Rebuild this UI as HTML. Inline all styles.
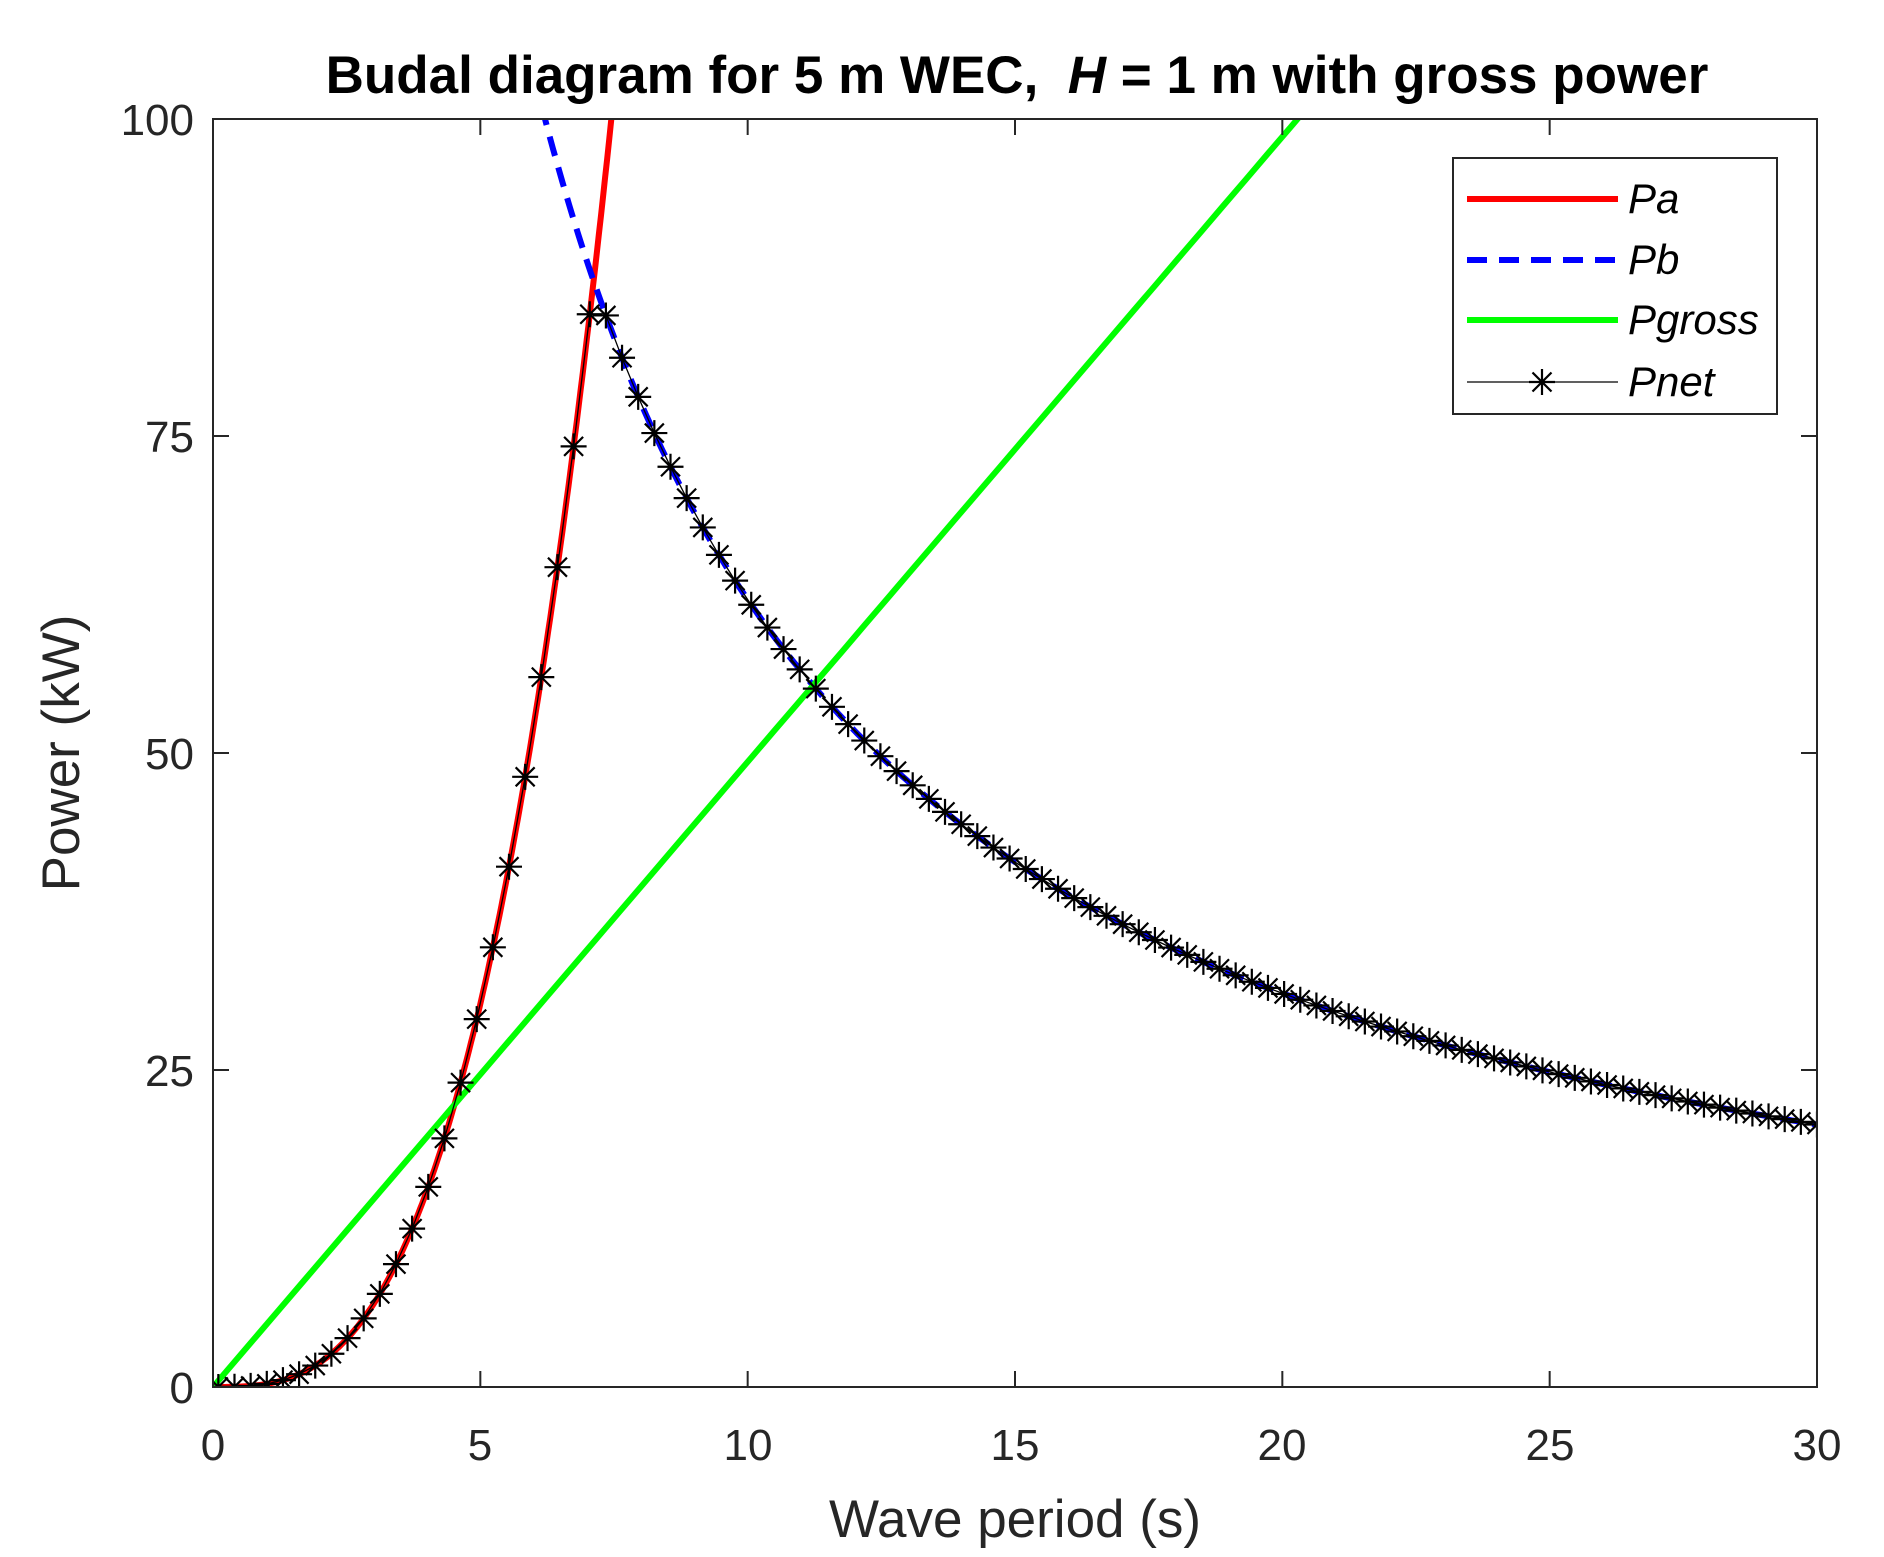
<!DOCTYPE html>
<html><head><meta charset="utf-8"><style>
html,body{margin:0;padding:0;background:#fff;}
svg{display:block;font-family:"Liberation Sans",Arial,sans-serif;}
</style></head><body>
<svg id="s" width="1884" height="1557" viewBox="0 0 1884 1557" xmlns="http://www.w3.org/2000/svg">
<rect width="1884" height="1557" fill="#fff"/>
<defs><clipPath id="c"><rect x="213" y="119" width="1604" height="1268"/></clipPath></defs>
<g id="plot" clip-path="url(#c)"></g>
<rect x="213" y="119" width="1604" height="1268" fill="none" stroke="#262626" stroke-width="2"/>
<g id="ticks" stroke="#262626" stroke-width="2"></g>
<g fill="#262626" font-size="44" text-anchor="middle">
<text x="213" y="1460">0</text><text x="480" y="1460">5</text><text x="748" y="1460">10</text>
<text x="1015" y="1460">15</text><text x="1282" y="1460">20</text><text x="1550" y="1460">25</text><text x="1817" y="1460">30</text>
</g>
<g fill="#262626" font-size="44" text-anchor="end">
<text x="194" y="1403">0</text><text x="194" y="1086">25</text><text x="194" y="769">50</text><text x="194" y="452">75</text><text x="194" y="135">100</text>
</g>
<text x="1015" y="1537" font-size="53" fill="#262626" text-anchor="middle">Wave period (s)</text>
<text transform="translate(79,753) rotate(-90)" font-size="53" fill="#262626" text-anchor="middle">Power (kW)</text>
<text x="1017" y="93" font-size="53" font-weight="bold" fill="#000" text-anchor="middle" xml:space="preserve">Budal diagram for 5 m WEC,  <tspan font-style="italic">H</tspan> = 1 m with gross power</text>
<rect x="1453" y="158" width="324" height="256" fill="#fff" stroke="#262626" stroke-width="2"/>
<line x1="1467" y1="199" x2="1618" y2="199" stroke="#f00" stroke-width="6"/>
<line x1="1467" y1="260" x2="1618" y2="260" stroke="#00f" stroke-width="6" stroke-dasharray="20,12"/>
<line x1="1467" y1="320" x2="1618" y2="320" stroke="#0f0" stroke-width="6"/>
<line x1="1467" y1="382" x2="1618" y2="382" stroke="#000" stroke-width="1.3"/>
<g id="lm"></g>
<g font-size="42" font-style="italic" fill="#000">
<text x="1628" y="213">Pa</text><text x="1628" y="274">Pb</text><text x="1628" y="334">Pgross</text><text x="1628" y="396">Pnet</text>
</g>
</svg>
<script>
var NS="http://www.w3.org/2000/svg";
function X(t){return 213+t*1604/30}
function Y(p){return 1387-p*12.68}
function el(tag,attrs,par){var e=document.createElementNS(NS,tag);for(var k in attrs)e.setAttribute(k,attrs[k]);par.appendChild(e);return e}
var plot=document.getElementById('plot');
var pa=function(t){return 0.2418*t*t*t}, pb=function(t){return 621/t}, pg=function(t){return 4.93*t};
function path(f,t0,t1,n){var d="";for(var i=0;i<=n;i++){var t=t0+(t1-t0)*i/n;d+=(i?"L":"M")+X(t).toFixed(1)+","+Y(f(t)).toFixed(1)}return d}
el('path',{d:path(pa,0,7.6,200),fill:'none',stroke:'#f00','stroke-width':6},plot);
el('path',{d:path(pb,6.0,30,400),fill:'none',stroke:'#00f','stroke-width':6,'stroke-dasharray':'20,12'},plot);
el('path',{d:path(pg,0,21,50),fill:'none',stroke:'#0f0','stroke-width':6},plot);
var pn=function(t){return Math.min(pa(t),pb(t))};
var d="",ts=[];for(var i=0;i<100;i++){ts.push(0.1+i*(29.9/99))}
ts.forEach(function(t,i){d+=(i?"L":"M")+X(t).toFixed(1)+","+Y(pn(t)).toFixed(1)});
el('path',{d:d,fill:'none',stroke:'#000','stroke-width':1.3},plot);
function star(x,y,g){var r=13,q=9.5;el('path',{d:"M"+(x-r)+","+y+"h"+(2*r)+"M"+x+","+(y-r)+"v"+(2*r)+"M"+(x-q)+","+(y-q)+"l"+(2*q)+","+(2*q)+"M"+(x-q)+","+(y+q)+"l"+(2*q)+","+(-2*q),stroke:'#000','stroke-width':2.2,fill:'none'},g)}
var sg=el('g',{},plot);ts.forEach(function(t){star(X(t),Y(pn(t)),sg)});
star(1542,382,document.getElementById('lm'));
var tk=document.getElementById('ticks');
[0,5,10,15,20,25,30].forEach(function(t){var x=X(t);el('line',{x1:x,y1:1387,x2:x,y2:1371},tk);el('line',{x1:x,y1:119,x2:x,y2:135},tk)});
[0,25,50,75,100].forEach(function(p){var y=Y(p);el('line',{x1:213,y1:y,x2:229,y2:y},tk);el('line',{x1:1817,y1:y,x2:1801,y2:y},tk)});
</script>
</body></html>
